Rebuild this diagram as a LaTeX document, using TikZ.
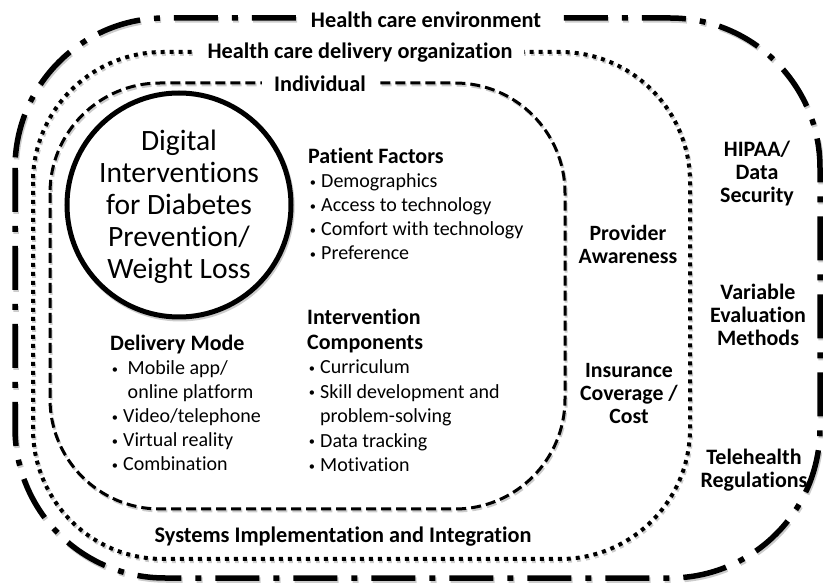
\documentclass[tikz,border=0pt]{standalone}
\usepackage{graphicx}
\usepackage{fontspec}
\setmainfont{Carlito}[Ligatures=NoCommon]
% bullet item and its continuation indent
\newcommand{\bitem}[1]{\makebox[0.65em][l]{\hspace{0.08em}\raisebox{0.06em}{\scalebox{0.62}{•}}}#1}
\newcommand{\bcont}[1]{\hspace*{0.65em}#1}
\begin{document}
\begin{tikzpicture}[x=1pt,y=-1pt,
  ghost/.style={black!20, shift={(1.2,2)}},
  envline/.style={line width=5.5pt, dash pattern=on 44pt off 14pt on 6pt off 14pt, rounded corners=150pt},
  orgline/.style={line width=4pt, dash pattern=on 4pt off 5pt, rounded corners=130pt},
  indline/.style={line width=3pt, dash pattern=on 10pt off 5pt, rounded corners=110pt},
  title/.style={font=\fontsize{22.3}{26}\bfseries\selectfont, fill=white, inner xsep=12pt, inner ysep=3pt},
  sidelabel/.style={font=\fontsize{22}{23}\bfseries\selectfont, align=center, inner sep=0pt},
  listblock/.style={font=\fontsize{20}{24}\selectfont, align=left, anchor=north west, inner sep=0pt},
  core/.style={font=\fontsize{29.5}{32}\selectfont, align=center, inner sep=0pt}]
\useasboundingbox (0,0) rectangle (823,585);

% soft shadows under the frames and the circle
\draw[ghost, envline] (15,18) rectangle (820,578);
\draw[ghost, orgline] (33,52) rectangle (690,559);
\draw[ghost, indline] (50,83) rectangle (565,509);
\draw[ghost, line width=5pt] (179,205) circle[radius=112];

% nested context frames
\draw[envline] (15,18) rectangle (820,578);
\draw[orgline] (33,52) rectangle (690,559);
\draw[indline] (50,83) rectangle (565,509);

% central intervention
\draw[line width=5pt, fill=white] (179,205) circle[radius=112];
\node[core] (digital) at (179,207) {Digital\\Interventions\\for Diabetes\\Prevention/\\Weight Loss};

% frame titles
\node[title] (env) at (426,20) {Health care environment};
\node[title] (org) at (360,53) {Health care delivery organization};
\node[title] (ind) at (320,84) {Individual};
\node[sidelabel, font=\fontsize{22.3}{26}\bfseries\selectfont] (sys) at (343,537) {Systems Implementation and Integration};

% individual-level factors
\node[listblock] (patient) at (308,148) {\textbf{\fontsize{22}{24}\selectfont Patient Factors}\\
  \bitem{Demographics}\\
  \bitem{Access to technology}\\
  \bitem{Comfort with technology}\\
  \bitem{Preference}};
\node[listblock] (delivery) at (110,335) {\textbf{\fontsize{22}{24}\selectfont Delivery Mode}\\
  \bitem{\ Mobile app/}\\
  \bcont{\ online platform}\\
  \bitem{Video/telephone}\\
  \bitem{Virtual reality}\\
  \bitem{Combination}};
\node[listblock, font=\fontsize{20}{24.5}\selectfont] (components) at (307,309) {\textbf{\fontsize{22}{24.5}\selectfont Intervention}\\
  \textbf{\fontsize{22}{24.5}\selectfont Components}\\
  \bitem{Curriculum}\\
  \bitem{Skill development and}\\
  \bcont{problem-solving}\\
  \bitem{Data tracking}\\
  \bitem{Motivation}};

% organization-level factors
\node[sidelabel, font=\fontsize{21.8}{23}\bfseries\selectfont] (provider) at (628,244) {Provider\\Awareness};
\node[sidelabel, font=\fontsize{21.8}{23}\bfseries\selectfont] (insurance) at (629,394) {Insurance\\Coverage /\\Cost};

% environment-level factors
\node[sidelabel] (hipaa) at (757,174) {HIPAA/\\Data\\Security};
\node[sidelabel] (evaluation) at (758,315) {Variable\\Evaluation\\Methods};
\node[sidelabel] (telehealth) at (754,470) {Telehealth\\Regulations};
\end{tikzpicture}
\end{document}
